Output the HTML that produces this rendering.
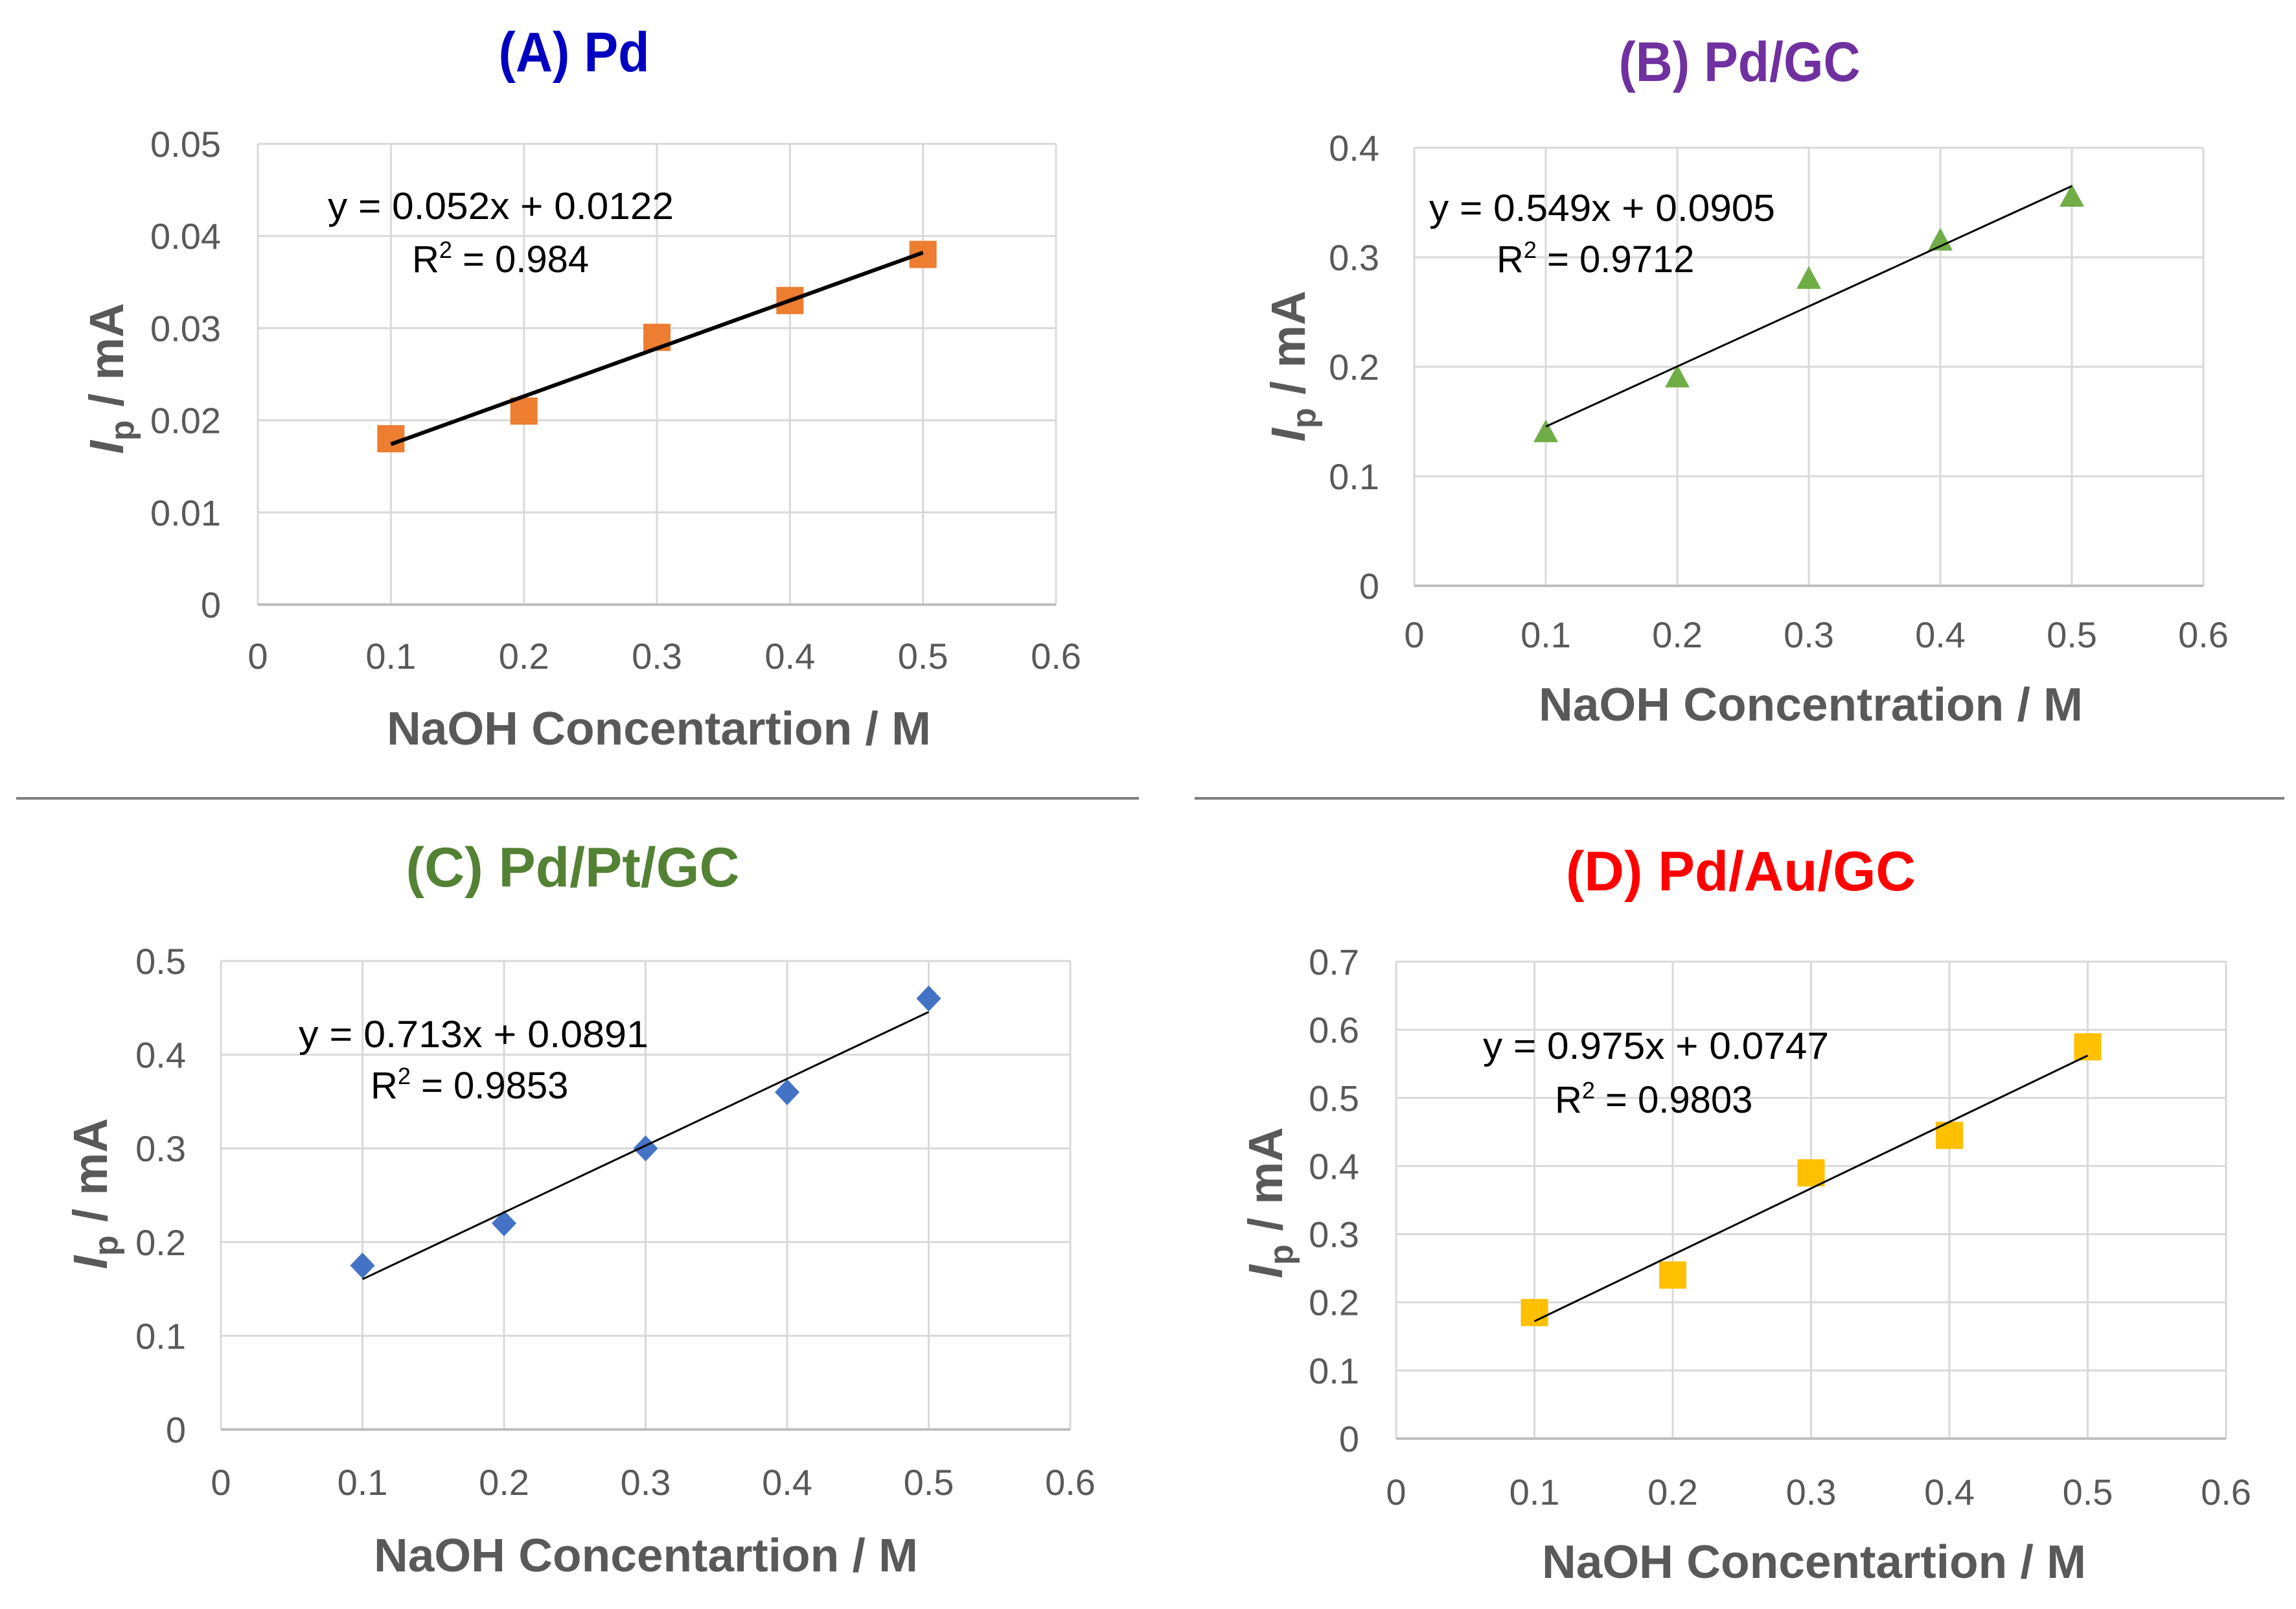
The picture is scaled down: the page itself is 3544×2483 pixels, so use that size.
<!DOCTYPE html>
<html><head><meta charset="utf-8"><style>
html,body{margin:0;padding:0;background:#fff;}
svg{display:block;font-family:"Liberation Sans Narrow","Liberation Sans",sans-serif;}
</style></head><body>
<svg id="fig" width="3544" height="2483" viewBox="0 0 3544 2483" xmlns="http://www.w3.org/2000/svg">
<rect width="3544" height="2483" fill="#fff"/>
<line x1="25" y1="1232" x2="1758" y2="1232" stroke="#7f7f7f" stroke-width="4"/>
<line x1="1844" y1="1232" x2="3526" y2="1232" stroke="#7f7f7f" stroke-width="4"/>
</svg>
<script>
const xValues = [0.1, 0.2, 0.3, 0.4, 0.5];
const xTicks = ["0","0.1","0.2","0.3","0.4","0.5","0.6"];
const valuesA = [0.018, 0.021, 0.029, 0.033, 0.038];
const valuesB = [0.14, 0.19, 0.28, 0.315, 0.355];
const valuesC = [0.175, 0.22, 0.30, 0.36, 0.46];
const valuesD = [0.185, 0.24, 0.39, 0.445, 0.575];
const yTicksA = ["0","0.01","0.02","0.03","0.04","0.05"];
const yTicksB = ["0","0.1","0.2","0.3","0.4"];
const yTicksC = ["0","0.1","0.2","0.3","0.4","0.5"];
const yTicksD = ["0","0.1","0.2","0.3","0.4","0.5","0.6","0.7"];
const fitA = [0.052, 0.0122];
const fitB = [0.549, 0.0905];
const fitC = [0.713, 0.0891];
const fitD = [0.975, 0.0747];

const NS = "http://www.w3.org/2000/svg";
const svg = document.getElementById("fig");
function mk(tag, attrs, parent, text){
  const e = document.createElementNS(NS, tag);
  for (const k in attrs) e.setAttribute(k, attrs[k]);
  if (text !== undefined) e.textContent = text;
  (parent||svg).appendChild(e);
  return e;
}
function panel(p){
  const g = mk("g", {});
  
  
  const yMax = parseFloat(p.yTicks[p.yTicks.length-1]);
  const xMax = parseFloat(xTicks[xTicks.length-1]);
  const sx = v => p.L + (p.R - p.L) * v / xMax;
  const sy = v => p.B - (p.B - p.T) * v / yMax;
  p.yTicks.forEach((t) => {
    const v = parseFloat(t), y = sy(v);
    const l = mk("line", {x1:p.L, x2:p.R, y1:y, y2:y, stroke:"#d9d9d9", "stroke-width":3}, g);
    
    
    const tx = mk("text", {x:p.yLabX, y:y+20, "text-anchor":"end", "font-size":56, fill:"#595959"}, g, t);
    
    
  });
  xTicks.forEach((t) => {
    const v = parseFloat(t), x = sx(v);
    const l = mk("line", {x1:x, x2:x, y1:p.T, y2:p.B, stroke:"#d9d9d9", "stroke-width":3}, g);
    
    
    const tx = mk("text", {x:x, y:p.xLabY+20, "text-anchor":"middle", "font-size":56, fill:"#595959"}, g, t);
    
    
  });
  const ax = mk("line", {x1:p.L, x2:p.R, y1:p.B, y2:p.B, stroke:"#bfbfbf", "stroke-width":4}, g);
  
  
  p.values.forEach((v, i) => {
    const cx = sx(xValues[i]), cy = sy(v), s = 21;
    let m;
    if (p.marker === "square") m = mk("rect", {x:cx-s, y:cy-s, width:2*s, height:2*s, fill:p.color}, g);
    else if (p.marker === "triangle") m = mk("polygon", {points:`${cx},${cy-20} ${cx+19},${cy+15} ${cx-19},${cy+15}`, fill:p.color}, g);
    else m = mk("polygon", {points:`${cx},${cy-20} ${cx+19},${cy} ${cx},${cy+20} ${cx-19},${cy}`, fill:p.color}, g);
    
    
  });
  const f = p.fit;
  const ln = mk("line", {x1:sx(xValues[0]), y1:sy(f[0]*xValues[0]+f[1]), x2:sx(xValues[4]), y2:sy(f[0]*xValues[4]+f[1]), stroke:"#000", "stroke-width":p.lw}, g);
  
  
  const eq = mk("text", {x:p.eqX, y:p.eqY+20, "font-size":58, fill:"#000", textLength:p.eqW, lengthAdjust:"spacingAndGlyphs"}, g, p.eqText);
  
  
  const r2 = mk("text", {x:p.r2X, y:p.r2Y+20, "font-size":58, fill:"#000"}, g);
  
  
  mk("tspan", {}, r2, "R");
  mk("tspan", {dy:-22, "font-size":36}, r2, "2");
  mk("tspan", {dy:22}, r2, " = " + p.r2);
  const ti = mk("text", {x:p.tX, y:p.tY+30, "text-anchor":"middle", "font-size":86, "font-weight":"bold", fill:p.tColor, textLength:p.tW, lengthAdjust:"spacingAndGlyphs"}, g, p.title);
  
  
  const xt = mk("text", {x:p.xtX, y:p.xtY+25, "text-anchor":"middle", "font-size":72, "font-weight":"bold", fill:"#595959", textLength:840, lengthAdjust:"spacingAndGlyphs"}, g, p.xTitle);
  
  
  const yt = mk("text", {transform:`translate(${p.ytX+25},${p.ytY}) rotate(-90)`, "text-anchor":"middle", "font-size":74, "font-weight":"bold", fill:"#595959"}, g);
  
  
  mk("tspan", {"font-style":"italic"}, yt, "I");
  mk("tspan", {dy:16, "font-size":52}, yt, "p");
  mk("tspan", {dy:-16}, yt, " / mA");
}
panel({id:"pd", L:398, R:1630, T:222, B:933, yTicks:yTicksA, values:valuesA, fit:fitA, marker:"square", color:"#ed7d31", lw:6,
  yLabX:341, xLabY:1012, eqX:506, eqY:318, eqW:534, eqText:"y = 0.052x + 0.0122", r2X:636, r2Y:400, r2:"0.984",
  title:"(A) Pd", tX:886, tY:80, tW:233, tColor:"#0000c0", xTitle:"NaOH Concentartion / M", xtX:1017, xtY:1124, ytX:165, ytY:584});
panel({id:"pd-gc", L:2183, R:3401, T:228, B:904, yTicks:yTicksB, values:valuesB, fit:fitB, marker:"triangle", color:"#70ad47", lw:3,
  yLabX:2129, xLabY:979, eqX:2206, eqY:321, eqW:534, eqText:"y = 0.549x + 0.0905", r2X:2310, r2Y:400, r2:"0.9712",
  title:"(B) Pd/GC", tX:2685, tY:95, tW:373, tColor:"#7030a0", xTitle:"NaOH Concentration / M", xtX:2795, xtY:1087, ytX:1989, ytY:565});
panel({id:"pd-pt-gc", L:341, R:1652, T:1483, B:2206, yTicks:yTicksC, values:valuesC, fit:fitC, marker:"diamond", color:"#4472c4", lw:3,
  yLabX:287, xLabY:2287, eqX:461, eqY:1596, eqW:540, eqText:"y = 0.713x + 0.0891", r2X:572, r2Y:1675, r2:"0.9853",
  title:"(C) Pd/Pt/GC", tX:884, tY:1338, tW:515, tColor:"#548235", xTitle:"NaOH Concentartion / M", xtX:997, xtY:2400, ytX:140, ytY:1842});
panel({id:"pd-au-gc", L:2155, R:3436, T:1484, B:2220, yTicks:yTicksD, values:valuesD, fit:fitD, marker:"square", color:"#ffc000", lw:3,
  yLabX:2098, xLabY:2302, eqX:2289, eqY:1614, eqW:534, eqText:"y = 0.975x + 0.0747", r2X:2400, r2Y:1697, r2:"0.9803",
  title:"(D) Pd/Au/GC", tX:2687, tY:1344, tW:540, tColor:"#ff0000", xTitle:"NaOH Concentartion / M", xtX:2800, xtY:2410, ytX:1954, ytY:1856});
</script>
</body></html>
